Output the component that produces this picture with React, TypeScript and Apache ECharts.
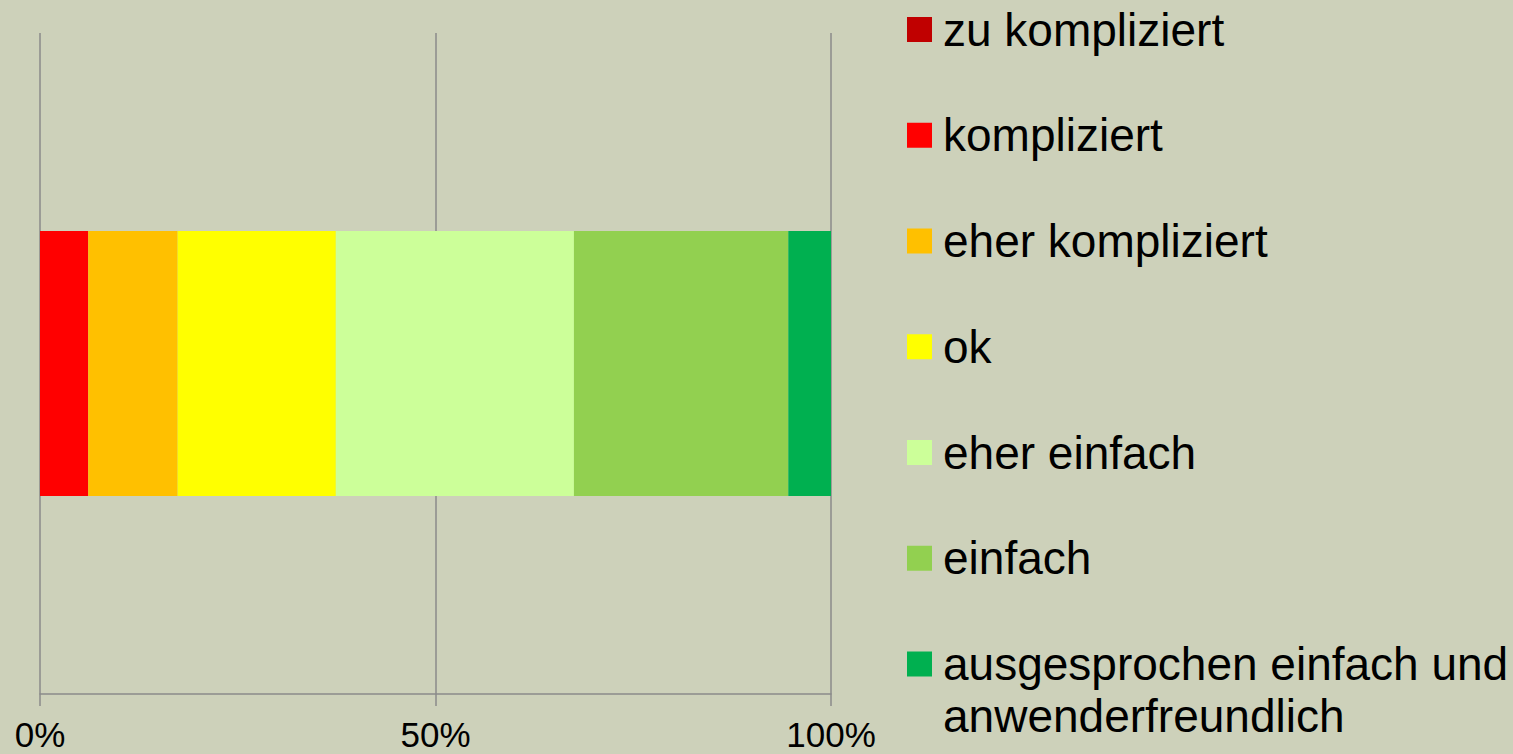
import React, { useEffect, useRef } from "react";
import * as echarts from "echarts";

const categories = [""];
const seriesNames = [
  "zu kompliziert",
  "kompliziert",
  "eher kompliziert",
  "ok",
  "eher einfach",
  "einfach",
  "ausgesprochen einfach und anwenderfreundlich",
];
const seriesValues = [0, 6.1, 11.3, 20.0, 30.1, 27.1, 5.4];
const seriesColors = ["#C00000", "#FF0000", "#FFC000", "#FFFF00", "#CCFF99", "#92D050", "#00B050"];
const legendFirstLines = [
  "zu kompliziert",
  "kompliziert",
  "eher kompliziert",
  "ok",
  "eher einfach",
  "einfach",
  "ausgesprochen einfach und",
];
const legendSecondLine = "anwenderfreundlich";
const tickValues = [0, 50, 100];

const FONT = "'Liberation Sans', Arial, sans-serif";

export default function App() {
  const ref = useRef<HTMLDivElement>(null);
  useEffect(() => {
    if (!ref.current) return;
    const chart = echarts.init(ref.current, null, { renderer: "svg" });
    const option = {
      animation: false,
      backgroundColor: "#CDD1BA",
      grid: { left: 40, right: 682, top: 33, bottom: 60, containLabel: false },
      xAxis: {
        type: "value",
        min: tickValues[0],
        max: tickValues[tickValues.length - 1],
        interval: 50,
        axisLine: { show: true, lineStyle: { color: "#8A8A8A", width: 1.5 } },
        axisTick: { show: true, length: 12, lineStyle: { color: "#8A8A8A", width: 1.5 } },
        splitLine: { show: true, lineStyle: { color: "#8A8A8A", width: 1.5 } },
        axisLabel: {
          formatter: "{value}%",
          color: "#000",
          fontSize: 35,
          lineHeight: 26,
          fontFamily: FONT,
          margin: 27,
        },
      },
      yAxis: {
        type: "category",
        data: categories,
        axisLine: { show: false },
        axisTick: { show: false },
        axisLabel: { show: false },
        splitLine: { show: false },
      },
      legend: {
        orient: "vertical",
        left: 907,
        top: 6.5,
        padding: 0,
        itemWidth: 25,
        itemHeight: 25,
        itemGap: 59.75,
        icon: "rect",
        data: seriesNames,
        formatter: (name: string) => legendFirstLines[seriesNames.indexOf(name)],
        textStyle: {
          color: "#000",
          fontSize: 46,
          lineHeight: 46,
          fontFamily: FONT,
          padding: [0, 0, 0, 6],
        },
      },
      graphic: [
        {
          type: "text",
          left: 943,
          top: 716 - 23,
          style: {
            text: legendSecondLine,
            fill: "#000",
            fontSize: 46,
            lineHeight: 46,
            fontFamily: FONT,
          },
        },
      ],
      series: seriesNames.map((name, i) => ({
        name,
        type: "bar",
        stack: "total",
        barWidth: 265,
        data: [seriesValues[i]],
        itemStyle: { color: seriesColors[i] },
        emphasis: { disabled: true },
      })),
    };
    chart.setOption(option as any);
    return () => chart.dispose();
  }, []);
  return (
    <div
      ref={ref}
      style={{ position: "fixed", left: 0, top: 0, width: 1513, height: 754 }}
    />
  );
}
